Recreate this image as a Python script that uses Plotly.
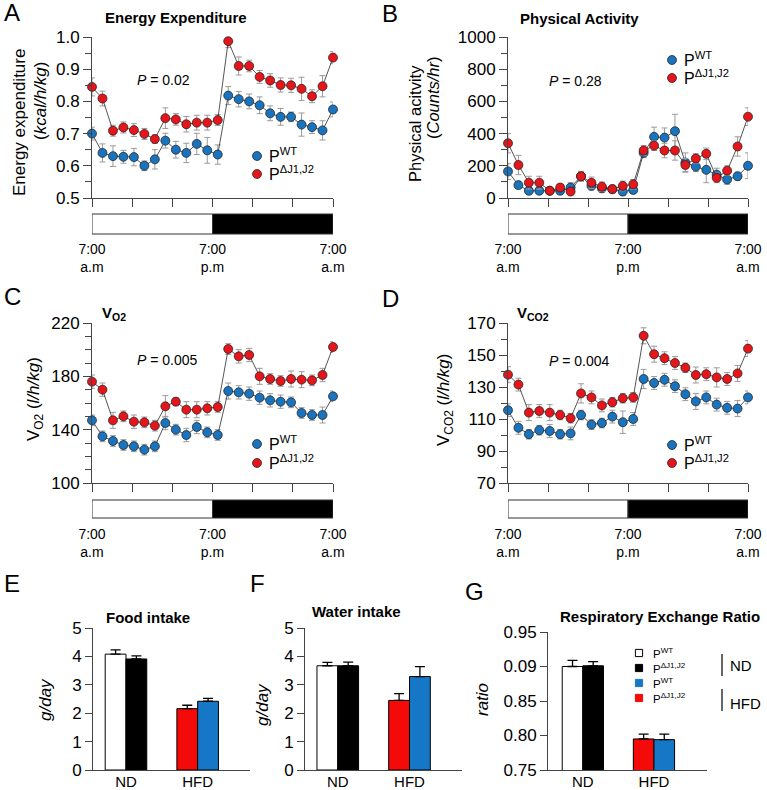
import plotly.graph_objects as go

W, H = 767, 790
FONT = "Liberation Sans, Arial, sans-serif"
BLUE = "#1a73bd"
RED = "#e4161c"
BAR_BLUE = "#1677c6"
BAR_RED = "#f50a0a"
AX = "#444444"

# ---------------- data ----------------
hours = list(range(24))  # hourly bins, 7:00 a.m. -> 7:00 a.m.

ee_wt = [0.700, 0.640, 0.630, 0.628, 0.627, 0.600, 0.620, 0.678, 0.650, 0.640, 0.668, 0.648,
         0.635, 0.818, 0.807, 0.800, 0.788, 0.763, 0.752, 0.752, 0.728, 0.720, 0.710, 0.775]
ee_wt_err = [0.020, 0.028, 0.032, 0.020, 0.027, 0.015, 0.030, 0.023, 0.026, 0.030, 0.033, 0.040,
             0.030, 0.028, 0.024, 0.023, 0.026, 0.023, 0.026, 0.015, 0.036, 0.020, 0.030, 0.023]
ee_mut = [0.845, 0.809, 0.709, 0.719, 0.711, 0.699, 0.683, 0.748, 0.744, 0.729, 0.734, 0.734,
          0.742, 0.987, 0.910, 0.910, 0.876, 0.865, 0.851, 0.850, 0.839, 0.816, 0.847, 0.936]
ee_mut_err = [0.028, 0.023, 0.017, 0.017, 0.020, 0.017, 0.013, 0.032, 0.018, 0.024, 0.023, 0.023,
              0.017, 0.020, 0.028, 0.018, 0.020, 0.021, 0.022, 0.022, 0.036, 0.020, 0.033, 0.019]

pa_wt = [165, 80, 45, 45, 45, 45, 65, 135, 75, 60, 55, 40, 50, 280, 380, 375, 415, 220, 195, 175,
         145, 115, 135, 200]
pa_wt_err = [50, 20, 15, 15, 15, 20, 30, 30, 25, 25, 20, 25, 20, 30, 60, 60, 105, 60, 30, 80, 40,
             30, 25, 80]
pa_mut = [340, 205, 95, 95, 45, 65, 40, 135, 95, 70, 55, 75, 85, 295, 325, 295, 295, 205, 245, 275,
          125, 170, 320, 505]
pa_mut_err = [60, 60, 40, 40, 20, 20, 20, 30, 35, 30, 25, 30, 30, 30, 30, 45, 60, 40, 30, 35, 30,
              30, 60, 55]

vo2_wt = [147, 135, 131.5, 128.5, 127.5, 125, 127.5, 145, 140, 136, 142, 138, 136, 169, 168, 167,
          164, 162, 161, 160.5, 152.5, 151, 151, 165]
vo2_wt_err = [4, 4, 4, 4, 4, 4, 4, 5, 4, 5, 5, 4, 4, 6, 5, 5, 5, 5, 5, 4, 4, 4, 6, 4]
vo2_mut = [176, 170, 147, 150, 146, 145.5, 143, 157.5, 161, 155, 155, 156, 157, 200.5, 195, 196,
           180, 178, 176.5, 178, 177.5, 177, 181, 202]
vo2_mut_err = [5, 5, 6, 4, 5, 4, 4, 8, 3, 6, 6, 5, 4, 4, 5, 5, 6, 4, 4, 6, 6, 4, 5, 4]

vco2_wt = [115.5, 104.5, 100.5, 103, 102.5, 100.5, 101, 112.5, 106.5, 107.5, 111.5, 108, 110,
           135, 132.5, 134.5, 130.5, 125.5, 121, 123.5, 119, 117, 116.5, 123.5]
vco2_wt_err = [4, 4, 3, 3, 4, 3, 4, 3, 3, 3, 4, 7, 4, 6, 4, 4, 4, 4, 5, 4, 4, 4, 5, 4]
vco2_mut = [137.7, 131.5, 114, 115, 114, 112.5, 110.5, 126, 123.5, 118.5, 120.5, 123, 123.5,
            162, 150.5, 148, 145, 142, 137.5, 138, 136, 135, 138.5, 154]
vco2_mut_err = [5, 4, 5, 4, 5, 3, 3, 6, 4, 4, 3, 3, 3, 5, 5, 4, 4, 3, 5, 4, 6, 4, 5, 5]

diets = ["ND", "HFD"]
# first bar of each group: ND P^WT (white), HFD P^ΔJ1,J2 (red)
# second bar of each group: ND P^ΔJ1,J2 (black), HFD P^WT (blue)
food_first = [4.08, 2.16]
food_first_err = [0.15, 0.12]
food_second = [3.91, 2.42]
food_second_err = [0.11, 0.10]
water_first = [3.67, 2.45]
water_first_err = [0.12, 0.24]
water_second = [3.67, 3.29]
water_second_err = [0.13, 0.35]
rer_first = [0.900, 0.795]
rer_first_err = [0.009, 0.007]
rer_second = [0.901, 0.794]
rer_second_err = [0.006, 0.008]

x_tickvals_line = [0, 11.5, 23]
x_ticktext_line = ["7:00<br>a.m", "7:00<br>p.m", "7:00<br>a.m"]
rer_tickvals = [0.75, 0.80, 0.85, 0.90, 0.95]
rer_ticktext = ["0.75", "0.80", "0.85", "0.09", "0.95"]

# ---------------- helpers ----------------
def pxx(a, b):
    return [a / W, b / W]

def pxy(top, bot):
    return [1 - bot / H, 1 - top / H]

def px(x):
    return x / W

def py(y):
    return 1 - y / H

fig = go.Figure()

def add_series(xa, ya, y, err, color):
    fig.add_trace(go.Scatter(
        x=hours, y=y, xaxis=xa, yaxis=ya, mode="lines+markers", showlegend=False,
        line=dict(color="#2a2a2a", width=0.8),
        marker=dict(size=9, color=color, line=dict(color="#1a1a1a", width=0.7)),
        error_y=dict(type="data", array=err, color="#9a9a9a", thickness=1, width=3),
        cliponaxis=False,
    ))

add_series("x", "y", ee_wt, ee_wt_err, BLUE)
add_series("x", "y", ee_mut, ee_mut_err, RED)
add_series("x2", "y2", pa_wt, pa_wt_err, BLUE)
add_series("x2", "y2", pa_mut, pa_mut_err, RED)
add_series("x3", "y3", vo2_wt, vo2_wt_err, BLUE)
add_series("x3", "y3", vo2_mut, vo2_mut_err, RED)
add_series("x4", "y4", vco2_wt, vco2_wt_err, BLUE)
add_series("x4", "y4", vco2_mut, vco2_mut_err, RED)

def add_bars(xa, ya, first, first_err, second, second_err):
    fig.add_trace(go.Bar(
        x=diets, y=first, xaxis=xa, yaxis=ya, width=0.29, offset=-0.29, showlegend=False,
        marker=dict(color=["white", BAR_RED], line=dict(color="black", width=1)),
        error_y=dict(type="data", symmetric=False, array=first_err, arrayminus=[0, 0],
                     color="black", thickness=1.3, width=5),
    ))
    fig.add_trace(go.Bar(
        x=diets, y=second, xaxis=xa, yaxis=ya, width=0.29, offset=0, showlegend=False,
        marker=dict(color=["black", BAR_BLUE], line=dict(color="black", width=1)),
        error_y=dict(type="data", symmetric=False, array=second_err, arrayminus=[0, 0],
                     color="black", thickness=1.3, width=5),
    ))

add_bars("x5", "y5", food_first, food_first_err, food_second, food_second_err)
add_bars("x6", "y6", water_first, water_first_err, water_second, water_second_err)
add_bars("x7", "y7", rer_first, rer_first_err, rer_second, rer_second_err)

# ---------------- axes ----------------
base = dict(showgrid=False, zeroline=False, showline=True, linecolor=AX, linewidth=1,
            ticks="outside", tickcolor=AX, tickwidth=1, automargin=False)

def xline(domain, anchor):
    return dict(base, domain=domain, anchor=anchor, range=[0, 23],
                tickvals=x_tickvals_line, ticktext=x_ticktext_line,
                ticklen=8, ticklabelstandoff=30,
                minor=dict(ticks="outside", tick0=0, dtick=23 / 6, ticklen=8, tickcolor=AX),
                tickfont=dict(size=14, color="black", family=FONT))

def yline(domain, anchor, rng, tick0, dtick, minor, fmt=None):
    d = dict(base, domain=domain, anchor=anchor, range=rng, tick0=tick0, dtick=dtick,
             ticklen=8, tickfont=dict(size=17, color="black", family=FONT),
             minor=dict(ticks="outside", tick0=tick0, dtick=minor, ticklen=6, tickcolor=AX))
    if fmt:
        d["tickformat"] = fmt
    return d

top_y = pxy(37, 198)
mid_y = pxy(323, 483)
left_x = pxx(92, 333)
right_x = pxx(508, 748)

layout = dict(
    template="none",
    width=W, height=H, autosize=False,
    margin=dict(l=0, r=0, t=0, b=0, pad=0, autoexpand=False),
    paper_bgcolor="white", plot_bgcolor="rgba(0,0,0,0)", barmode="overlay", showlegend=False,
    font=dict(family=FONT, color="black"),
    xaxis=xline(left_x, "y"),
    yaxis=yline(top_y, "x", [0.5, 1.0], 0.5, 0.1, 0.05, ".1f"),
    xaxis2=xline(right_x, "y2"),
    yaxis2=yline(top_y, "x2", [0, 1000], 0, 200, 100),
    xaxis3=xline(left_x, "y3"),
    yaxis3=yline(mid_y, "x3", [100, 220], 100, 40, 10),
    xaxis4=xline(right_x, "y4"),
    yaxis4=yline(mid_y, "x4", [70, 170], 70, 20, 10),
)

def xbar(domain, anchor, rng):
    return dict(base, domain=domain, anchor=anchor, range=rng, type="category", ticks="",
                ticklabelstandoff=-2,
                tickfont=dict(size=15, color="black", family=FONT))

def ybar(domain, anchor, rng, **kw):
    d = dict(base, domain=domain, anchor=anchor, range=rng, ticklen=7,
             tickfont=dict(size=17, color="black", family=FONT))
    d.update(kw)
    return d

bot_y = pxy(628, 770)
layout["xaxis5"] = xbar(pxx(93, 250), "y5", [-0.46, 1.73])
layout["yaxis5"] = ybar(bot_y, "x5", [0, 5], dtick=1, tick0=0)
layout["xaxis6"] = xbar(pxx(305, 462), "y6", [-0.457, 1.732])
layout["yaxis6"] = ybar(bot_y, "x6", [0, 5], dtick=1, tick0=0)
layout["xaxis7"] = xbar(pxx(548, 707), "y7", [-0.49, 1.746])
layout["yaxis7"] = ybar(pxy(632, 770), "x7", [0.75, 0.95], tickvals=rer_tickvals,
                        ticktext=rer_ticktext)
fig.update_layout(**layout)

# ---------------- day / night bars ----------------
shapes = []
for xa, top, bot in [("x", 214, 234), ("x2", 214, 234), ("x3", 500, 518), ("x4", 500, 518)]:
    shapes.append(dict(type="rect", xref=xa, yref="paper", x0=0, x1=11.5, y0=py(bot), y1=py(top),
                       fillcolor="white", line=dict(color="#333", width=1)))
    shapes.append(dict(type="rect", xref=xa, yref="paper", x0=11.5, x1=23, y0=py(bot), y1=py(top),
                       fillcolor="black", line=dict(color="#333", width=1)))

# ---------------- legends (symbols + text) ----------------
annotations = []

def ann(x, y, text, size, xanchor="center", angle=0, **kw):
    annotations.append(dict(x=px(x), y=py(y), xref="paper", yref="paper", text=text,
                            showarrow=False, xanchor=xanchor, yanchor="middle",
                            textangle=angle, font=dict(size=size, color="black", family=FONT),
                            **kw))

def circle(cx, cy, color, r=4.5):
    shapes.append(dict(type="circle", xref="paper", yref="paper",
                       x0=px(cx - r), x1=px(cx + r), y0=py(cy + r), y1=py(cy - r),
                       fillcolor=color, line=dict(color="#1a1a1a", width=0.7)))

def square(cx, cy, color, s=3.6):
    edge = "black" if color in ("white", "black") else color
    shapes.append(dict(type="rect", xref="paper", yref="paper",
                       x0=px(cx - s), x1=px(cx + s), y0=py(cy + s), y1=py(cy - s),
                       fillcolor=color, line=dict(color=edge, width=1)))

WT = "P<sup>WT</sup>"
MUT = "P<sup>ΔJ1,J2</sup>"
for cx, cy1, cy2 in [(257, 156, 174), (672, 60, 78), (257, 444, 463), (672, 445, 463)]:
    circle(cx, cy1, BLUE)
    circle(cx, cy2, RED)
    ann(cx + 10, cy1 - 1, WT, 16, "left")
    ann(cx + 10, cy2 - 1, MUT, 16, "left")

# G legend
for cy, col in [(653, "white"), (668, "black"), (683, BAR_BLUE), (698, BAR_RED)]:
    square(639, cy, col)
ann(651, 660, WT + "<br>" + MUT, 11.5, "left", align="left")
ann(651, 690, WT + "<br>" + MUT, 11.5, "left", align="left")
shapes.append(dict(type="line", xref="paper", yref="paper", x0=px(722), x1=px(722),
                   y0=py(676), y1=py(654), line=dict(color="black", width=1.2)))
shapes.append(dict(type="line", xref="paper", yref="paper", x0=px(722), x1=px(722),
                   y0=py(711), y1=py(689), line=dict(color="black", width=1.2)))
ann(728, 665, "ND", 15, "left")
ann(728, 703, "HFD", 15, "left")

# ---------------- titles, labels ----------------
for x, y, t in [(12, 13, "A"), (390, 14, "B"), (12, 296, "C"), (390, 298, "D"),
                (12, 583, "E"), (257, 583, "F"), (474, 591, "G")]:
    ann(x, y, t, 24)

ann(176, 17, "<b>Energy Expenditure</b>", 15)
ann(579, 18, "<b>Physical Activity</b>", 15)
ann(114, 313, "<b>V<sub>O2</sub></b>", 15)
ann(533, 313, "<b>V<sub>CO2</sub></b>", 15)
ann(148, 617, "<b>Food intake</b>", 15)
ann(356, 611, "<b>Water intake</b>", 15)
ann(660, 616, "<b>Respiratory Exchange Ratio</b>", 15)

ann(163, 80, "<i>P</i> = 0.02", 14)
ann(575, 81, "<i>P</i> = 0.28", 14)
ann(167, 360, "<i>P</i> = 0.005", 14)
ann(579, 361, "<i>P</i> = 0.004", 14)

ann(20, 123, "Energy expenditure", 17, angle=-90)
ann(40, 101, "(<i>kcal/h/kg</i>)", 17, angle=-90)
ann(415, 124, "Physical acitvity", 16.5, angle=-90)
ann(433, 97, "(<i>Counts/hr</i>)", 16.5, angle=-90)
ann(35, 399, "V<sub>O2</sub> (<i>l/h/kg</i>)", 17, angle=-90)
ann(445, 400, "V<sub>CO2</sub> (<i>l/h/kg</i>)", 17, angle=-90)
ann(45, 700, "<i>g/day</i>", 17, angle=-90)
ann(262, 705, "<i>g/day</i>", 17, angle=-90)
ann(482, 700, "<i>ratio</i>", 17, angle=-90)

fig.update_layout(shapes=shapes, annotations=annotations)
fig.write_html(
    "out.html",
    config={"displayModeBar": False},
    post_script="document.body.style.margin='0px';document.body.style.padding='0px';"
                "document.body.style.overflow='hidden';",
)
